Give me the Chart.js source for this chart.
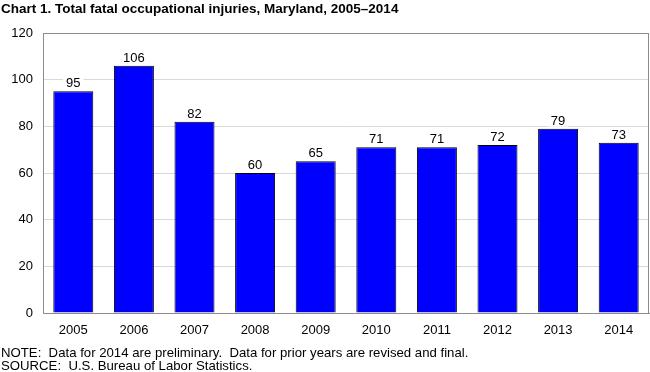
<!DOCTYPE html>
<html><head><meta charset="utf-8">
<script src="https://cdn.jsdelivr.net/npm/chart.js@4/dist/chart.umd.min.js"></script>
<style>html,body{margin:0;padding:0;background:#fff}#wrap{width:650px;height:372px;position:relative}</style>
</head><body><div id="wrap"><canvas id="c" width="650" height="372"></canvas></div>
<script>
const years = ['2005','2006','2007','2008','2009','2010','2011','2012','2013','2014'];
const fatalities = [95,106,82,60,65,71,71,72,79,73];
const yTicks = [0,20,40,60,80,100,120];
const titleText = 'Chart 1. Total fatal occupational injuries, Maryland, 2005\u20132014';
const noteLines = ['NOTE:  Data for 2014 are preliminary.  Data for prior years are revised and final.',
                   'SOURCE:  U.S. Bureau of Labor Statistics.'];
const FONT = '"Liberation Sans", Arial, sans-serif';

const deco = {
  id: 'deco',
  afterDatasetsDraw(chart) {
    const ctx = chart.ctx, a = chart.chartArea;
    ctx.save();
    ctx.strokeStyle = '#8c8c8c'; ctx.lineWidth = 1;
    ctx.strokeRect(Math.round(a.left)+0.5, Math.round(a.top)+0.5, Math.round(a.right-a.left)-1, Math.round(a.bottom-a.top));
    const meta = chart.getDatasetMeta(0);
    ctx.font = '13px ' + FONT;
    ctx.textAlign = 'center'; ctx.textBaseline = 'alphabetic';
    meta.data.forEach((bar, i) => {
      const t = String(chart.data.datasets[0].data[i]);
      const w = ctx.measureText(t).width;
      const yb = bar.y - 4;
      ctx.fillStyle = '#fff';
      ctx.fillRect(bar.x - w/2 - 3, yb - 11, w + 6, 13);
      ctx.fillStyle = '#000';
      ctx.fillText(t, bar.x, yb);
    });
    ctx.textAlign = 'left';
    ctx.font = 'bold 13.5px ' + FONT;
    ctx.fillText(titleText, 1, 13);
    ctx.font = '13.2px ' + FONT;
    ctx.fillText(noteLines[0], 1, 357);
    ctx.fillText(noteLines[1], 1, 369.5);
    ctx.restore();
  }
};

new Chart(document.getElementById('c'), {
  type: 'bar',
  data: { labels: years, datasets: [{ data: fatalities, backgroundColor: '#0000ff', borderColor: '#000', borderWidth: 1,
          categoryPercentage: 1, barPercentage: 0.66 }] },
  options: {
    responsive: false, animation: false, devicePixelRatio: 1,
    layout: { padding: { top: 33, bottom: 34, right: 1, left: 0 } },
    plugins: { legend: { display: false }, tooltip: { enabled: false } },
    scales: {
      x: { grid: { display: false, drawTicks: false }, border: { color: '#8c8c8c' },
           ticks: { color: '#000', font: { size: 13, family: FONT }, padding: 10 },
           afterFit(s) { s.height = 25; } },
      y: { min: 0, max: 120, afterBuildTicks(s) { s.ticks = yTicks.map(v => ({ value: v })); },
           grid: { color: '#d9d9d9', drawTicks: false }, border: { color: '#8c8c8c' },
           ticks: { color: '#000', font: { size: 13, family: FONT }, padding: 10 },
           afterFit(s) { s.width = 43; } }
    }
  },
  plugins: [deco]
});
</script></body></html>
